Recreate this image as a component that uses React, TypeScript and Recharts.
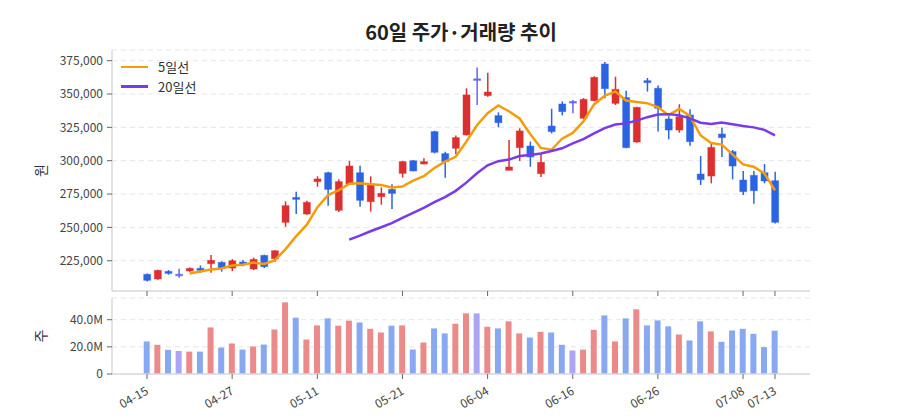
import React from 'react';
import { ComposedChart, Bar, Line, XAxis, YAxis, CartesianGrid, Cell } from 'recharts';

const dates = [
  '04-15', '04-16', '04-17', '04-20', '04-21', '04-22', '04-23', '04-24', '04-27', '04-28',
  '04-29', '04-30', '05-04', '05-06', '05-07', '05-08', '05-11', '05-12', '05-13', '05-14',
  '05-15', '05-18', '05-19', '05-20', '05-21', '05-22', '05-26', '05-27', '05-28', '05-29',
  '06-01', '06-03', '06-04', '06-05', '06-08', '06-09', '06-10', '06-11', '06-12', '06-15',
  '06-16', '06-17', '06-18', '06-19', '06-22', '06-23', '06-24', '06-25', '06-26', '06-29',
  '06-30', '07-01', '07-02', '07-03', '07-06', '07-07', '07-08', '07-09', '07-10', '07-13',
];

const opens = [
  214800, 211300, 217000, 214300, 217300, 219300, 222800, 223800, 219500, 224000,
  218800, 229000, 226500, 253800, 272500, 260000, 284300, 291000, 262800, 282500,
  291000, 269300, 273000, 278500, 290500, 300000, 297500, 321800, 305300, 309300,
  319300, 360800, 348800, 333800, 292800, 309800, 311000, 290300, 326000, 342500,
  343800, 331800, 345000, 372500, 343000, 347300, 314000, 360000, 354300, 331300,
  323000, 334300, 290000, 288500, 320000, 306800, 285500, 289000, 291000, 285000,
];
const highs = [
  215500, 218200, 218000, 219000, 220000, 221500, 229300, 224500, 226200, 225500,
  227300, 229500, 232800, 269500, 276800, 270000, 288300, 291800, 286000, 299800,
  296300, 288300, 280000, 282300, 299800, 300500, 301800, 322500, 306800, 318800,
  354300, 369800, 366000, 336300, 315500, 324300, 314300, 305800, 339000, 344500,
  345500, 347000, 363300, 374000, 363000, 352500, 340500, 362000, 356300, 334300,
  342300, 338500, 303500, 312500, 324800, 308000, 292300, 292300, 297500, 291800,
];
const lows = [
  209500, 210800, 214500, 212300, 216800, 216000, 216000, 216800, 217200, 220800,
  218000, 219500, 224300, 250500, 260000, 259500, 280500, 266300, 261500, 282000,
  265500, 261800, 267000, 263800, 287300, 292000, 297300, 305500, 287300, 304800,
  319000, 341800, 348000, 325000, 292800, 299800, 295500, 287800, 320500, 334000,
  335500, 331500, 344500, 346800, 341800, 309300, 313500, 351800, 321800, 316000,
  321000, 311300, 281800, 283000, 302800, 286000, 274300, 267800, 283000, 253000,
];
const closes = [
  210300, 217800, 215500, 214300, 219300, 217800, 225300, 219300, 225000, 222300,
  226000, 220500, 232500, 266300, 271000, 268800, 286300, 278500, 284300, 296000,
  270300, 282500, 275500, 275500, 299300, 292300, 299300, 306300, 299300, 317300,
  349300, 360800, 351500, 328500, 295300, 322300, 302800, 298800, 321800, 336800,
  343800, 346000, 362500, 354000, 353500, 309800, 340000, 358500, 339300, 323000,
  333000, 314300, 285800, 310000, 317300, 296000, 276800, 277500, 284800, 253800,
];
const volumes = [
  24.0, 21.5, 17.8, 17.0, 16.5, 16.5, 34.3, 19.5, 22.5, 18.0,
  20.2, 21.7, 32.8, 52.8, 41.5, 25.4, 35.8, 41.0, 35.6, 39.3,
  38.0, 33.3, 30.6, 35.6, 35.8, 18.0, 23.2, 33.6, 29.9, 37.0,
  44.7, 44.7, 34.8, 33.6, 38.8, 29.9, 26.9, 31.1, 30.6, 21.5,
  17.3, 18.0, 32.6, 43.2, 24.0, 41.0, 47.7, 35.8, 39.5, 35.1,
  29.1, 24.7, 38.8, 31.4, 23.7, 32.1, 33.3, 29.6, 19.8, 31.9,
].map((v) => v * 1000000);

const tickIndexes = [0, 8, 16, 24, 32, 40, 48, 56, 59];
const priceTicks = [225000, 250000, 275000, 300000, 325000, 350000, 375000];
const volumeTicks = [0, 20000000, 40000000];

const RED = '#dc2f2f';
const BLUE = '#2b63e3';
const PURPLE = '#6666ee';
const RED_V = '#ec8a8a';
const BLUE_V = '#88a9f1';
const PURPLE_V = '#aaa6f4';
const MA5_COLOR = '#f59c0b';
const MA20_COLOR = '#7a3ae8';

const movingAverage = (arr: number[], n: number, i: number) => {
  if (i < n - 1) return null;
  let s = 0;
  for (let k = i - n + 1; k <= i; k++) s += arr[k];
  return s / n;
};

const rows = dates.map((d, i) => ({
  idx: i,
  date: d,
  open: opens[i],
  high: highs[i],
  low: lows[i],
  close: closes[i],
  volume: volumes[i],
  ma5: movingAverage(closes, 5, i),
  ma20: movingAverage(closes, 20, i),
}));

const dirColor = (o: number, c: number, up: string, down: string, flat: string) =>
  c > o ? up : c < o ? down : flat;

const Candle = (props: any) => {
  const { x, y, width, height, payload } = props;
  if (x == null || y == null) return null;
  const { open, close, high, low } = payload;
  const ratio = height / Math.max(high - low, 1);
  const yOf = (v: number) => y + (high - v) * ratio;
  const cx = x + width / 2;
  const color = dirColor(open, close, RED, BLUE, PURPLE);
  const top = yOf(Math.max(open, close));
  const bot = yOf(Math.min(open, close));
  let bh = bot - top;
  let by = top;
  if (bh < 1.6) {
    by = (top + bot) / 2 - 0.8;
    bh = 1.6;
  }
  return (
    <g>
      <line x1={cx} x2={cx} y1={y} y2={y + height} stroke={color} strokeWidth={1.5} />
      <rect x={x} y={by} width={width} height={bh} fill={color} stroke={color} strokeOpacity={0.45} strokeWidth={1} />
    </g>
  );
};

const AngledTick = (props: any) => {
  const { x, y, payload } = props;
  return (
    <g transform={`translate(${x - 2},${y + 5})`}>
      <text x={0} y={0} dy="0.71em" textAnchor="end" transform="rotate(-30)" fill="#444" fontSize={12}>
        {dates[payload.value]}
      </text>
    </g>
  );
};

const legendItems = [
  { name: '5일선', color: MA5_COLOR },
  { name: '20일선', color: MA20_COLOR },
];

const axisLabel = (text: string) => (p: any) => {
  const vb = p.viewBox || {};
  const cy = vb.y + vb.height / 2;
  return (
    <text x={40} y={cy} transform={`rotate(-90, 40, ${cy})`} textAnchor="middle" dominantBaseline="central" fontSize={14} fill="#333">
      {text}
    </text>
  );
};

const X_DOMAIN: [number, number] = [-3.29, 62.29];
const FONT = "'Noto Sans CJK KR', 'Noto Sans', sans-serif";

export default function App() {
  return (
    <div style={{ position: 'absolute', left: 0, top: 0, width: 900, height: 420, background: '#fff', fontFamily: FONT }}>
      <div style={{ position: 'absolute', left: 112, top: 18, width: 698, textAlign: 'center', fontSize: 20, fontWeight: 700, color: '#222', lineHeight: '28px' }}>
        60일 주가·거래량 추이
      </div>
      <div style={{ position: 'absolute', left: 0, top: 0 }}>
        <ComposedChart width={900} height={300} data={rows} margin={{ top: 50, right: 90, left: 0, bottom: 0 }}>
          <CartesianGrid vertical={false} stroke="#e3e6eb" strokeDasharray="5 4" />
          <XAxis
            dataKey="idx"
            type="number"
            domain={X_DOMAIN}
            ticks={tickIndexes}
            allowDataOverflow
            height={9}
            tickSize={5}
            tickFormatter={() => ''}
            axisLine={{ stroke: '#d6dae1', strokeWidth: 1.5 }}
            tickLine={{ stroke: '#666' }}
          />
          <YAxis
            type="number"
            domain={[202300, 383000]}
            ticks={priceTicks}
            allowDataOverflow
            width={112}
            tickSize={5}
            tickMargin={4}
            tick={{ fill: '#444', fontSize: 12 }}
            tickFormatter={(v: number) => v.toLocaleString('en-US')}
            axisLine={{ stroke: '#d6dae1', strokeWidth: 1.5 }}
            tickLine={{ stroke: '#666' }}
            label={axisLabel('원')}
          />
          <Bar dataKey={(d: any) => [d.low, d.high]} barSize={7} shape={Candle} isAnimationActive={false} legendType="none" />
          <Line dataKey="ma5" name="5일선" stroke={MA5_COLOR} strokeWidth={2.5} dot={false} isAnimationActive={false} connectNulls={false} />
          <Line dataKey="ma20" name="20일선" stroke={MA20_COLOR} strokeWidth={2.5} dot={false} isAnimationActive={false} connectNulls={false} />
        </ComposedChart>
      </div>
      <div style={{ position: 'absolute', left: 121, top: 57, display: 'flex', flexDirection: 'column' }}>
        {legendItems.map((it) => (
          <div key={it.name} style={{ display: 'flex', alignItems: 'center', height: 19.5 }}>
            <div style={{ width: 27, height: 2.5, background: it.color, marginRight: 10 }} />
            <span style={{ fontSize: 13, color: '#333' }}>{it.name}</span>
          </div>
        ))}
      </div>
      <div style={{ position: 'absolute', left: 0, top: 290 }}>
        <ComposedChart width={900} height={130} data={rows} margin={{ top: 8, right: 90, left: 0, bottom: 0 }}>
          <CartesianGrid vertical={false} stroke="#e3e6eb" strokeDasharray="5 4" />
          <XAxis
            dataKey="idx"
            type="number"
            domain={X_DOMAIN}
            ticks={tickIndexes}
            allowDataOverflow
            height={46}
            tickSize={5}
            tick={<AngledTick />}
            axisLine={{ stroke: '#d6dae1', strokeWidth: 1.5 }}
            tickLine={{ stroke: '#666' }}
          />
          <YAxis
            type="number"
            domain={[0, 56000000]}
            ticks={volumeTicks}
            allowDataOverflow
            width={112}
            tickSize={5}
            tickMargin={4}
            tick={{ fill: '#444', fontSize: 12 }}
            tickFormatter={(v: number) => (v === 0 ? '0' : (v / 1000000).toFixed(1) + 'M')}
            axisLine={{ stroke: '#d6dae1', strokeWidth: 1.5 }}
            tickLine={{ stroke: '#666' }}
            label={axisLabel('주')}
          />
          <Bar dataKey="volume" barSize={6} isAnimationActive={false}>
            {rows.map((r) => (
              <Cell key={r.idx} fill={dirColor(r.open, r.close, RED_V, BLUE_V, PURPLE_V)} />
            ))}
          </Bar>
        </ComposedChart>
      </div>
    </div>
  );
}
